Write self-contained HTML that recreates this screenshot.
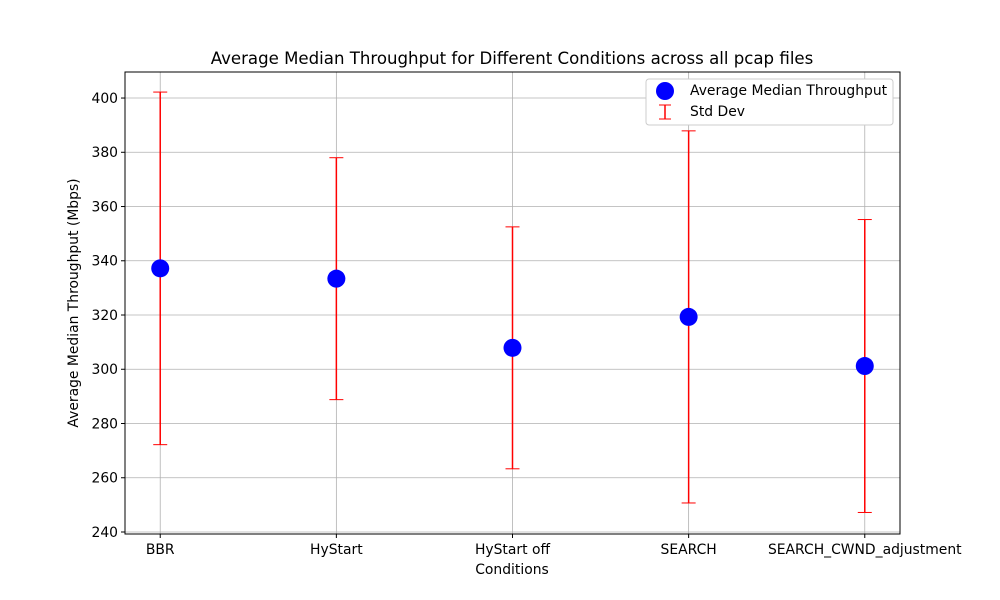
<!DOCTYPE html>
<html><head><meta charset="utf-8"><style>
body{margin:0;background:#fff;}
svg{display:block;font-family:"DejaVu Sans","Liberation Sans",sans-serif;}
</style></head><body>
<svg id="chart" width="1000" height="600" viewBox="0 0 1000 600">
<rect width="1000" height="600" fill="#fff"/>
<text x="512" y="64" text-anchor="middle" font-size="16.6">Average Median Throughput for Different Conditions across all pcap files</text>
<g id="grid"></g>
<g id="marks"></g>
<rect x="125" y="72" width="775" height="462" fill="none" stroke="#000" stroke-width="1"/>
<g id="axes" font-size="13.9"></g>
<text x="512" y="574" text-anchor="middle" font-size="13.9">Conditions</text>
<text transform="translate(78,303) rotate(-90)" text-anchor="middle" font-size="13.9">Average Median Throughput (Mbps)</text>
<g>
<rect x="646" y="79" width="247" height="46" fill="#fff" stroke="#ccc" rx="3"/>
<circle cx="665" cy="91" r="9" fill="#0000ff"/>
<text x="690" y="95" font-size="13.9">Average Median Throughput</text>
<line x1="665" y1="105" x2="665" y2="119" stroke="red" stroke-width="1.5"/>
<line x1="659" y1="105" x2="671" y2="105" stroke="red"/>
<line x1="659" y1="119" x2="671" y2="119" stroke="red"/>
<text x="690" y="116" font-size="13.9">Std Dev</text>
</g>
</svg>
<script>
const categories=["BBR","HyStart","HyStart off","SEARCH","SEARCH_CWND_adjustment"];
const means=[337.2,333.4,307.9,319.3,301.2];
const stds=[65.0,44.6,44.6,68.6,54.0];
const yTicks=[240,260,280,300,320,340,360,380,400];
const NS="http://www.w3.org/2000/svg";
const L=125,R=900,T=72,B=534,yMin=239.26,yMax=409.6,xMin=-0.2,xMax=4.2;
const xs=i=>L+(i-xMin)/(xMax-xMin)*(R-L);
const ys=v=>B-(v-yMin)/(yMax-yMin)*(B-T);
function mk(tag,attrs,parent){const e=document.createElementNS(NS,tag);for(const k in attrs)e.setAttribute(k,attrs[k]);document.getElementById(parent).appendChild(e);return e;}
yTicks.forEach(t=>{const y=ys(t);
 const g=mk('line',{x1:L,x2:R,y1:y,y2:y,stroke:'#b0b0b0','stroke-width':0.8},'grid');
 
 mk('line',{x1:L-4,x2:L,y1:y,y2:y,stroke:'#000'},'axes');
 const tx=mk('text',{x:L-7,y:y+4.8,'text-anchor':'end'},'axes');tx.textContent=t;
 });
categories.forEach((c,i)=>{const x=xs(i);
 const g=mk('line',{x1:x,x2:x,y1:T,y2:B,stroke:'#b0b0b0','stroke-width':0.8},'grid');
 
 mk('line',{x1:x,x2:x,y1:B,y2:B+4,stroke:'#000'},'axes');
 const tx=mk('text',{x:x,y:B+20,'text-anchor':'middle'},'axes');tx.textContent=c;
 
 const hi=ys(means[i]+stds[i]),lo=ys(means[i]-stds[i]);
 const eb=mk('line',{x1:x,x2:x,y1:hi,y2:lo,stroke:'red','stroke-width':1.5},'marks');
 
 [hi,lo].forEach(y=>{const cap=mk('line',{x1:x-7,x2:x+7,y1:y,y2:y,stroke:'red','stroke-width':1},'marks');
  });
 const pt=mk('circle',{cx:x,cy:ys(means[i]),r:9,fill:'#0000ff'},'marks');
 });
</script>
</body></html>
